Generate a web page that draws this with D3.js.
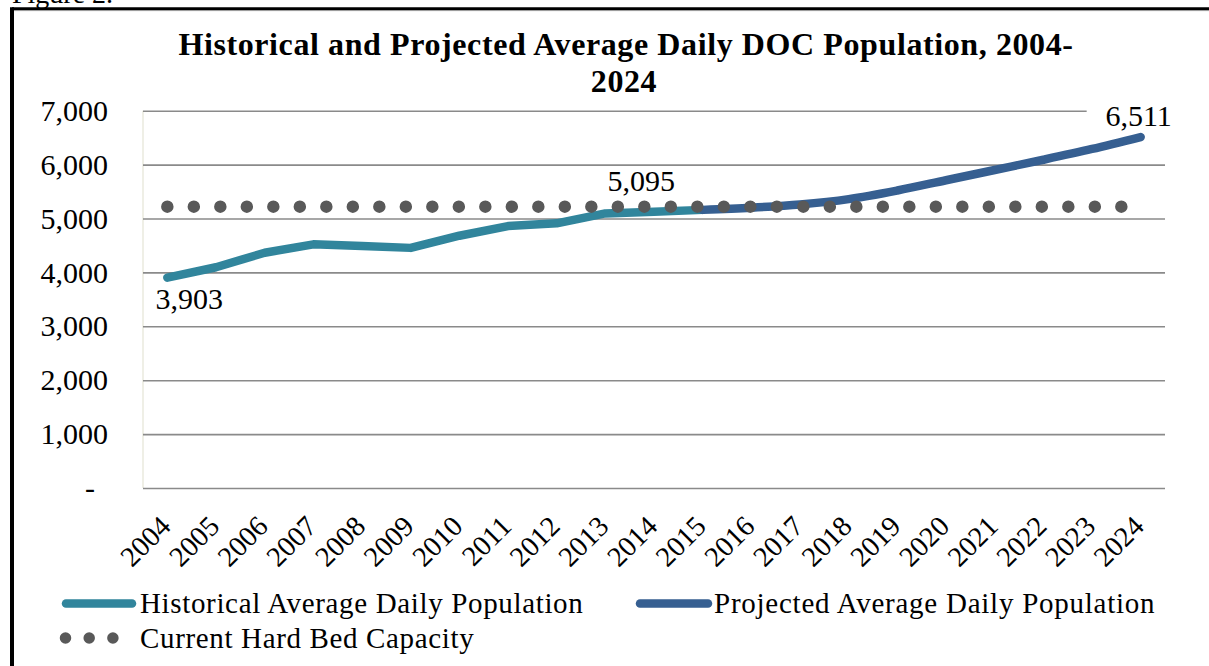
<!DOCTYPE html>
<html>
<head>
<meta charset="utf-8">
<script src="https://cdn.jsdelivr.net/npm/d3@7"></script>
<style>
  html, body { margin: 0; padding: 0; background: #fff; }
  svg { display: block; }
  text { font-family: "Liberation Serif", "Times New Roman", serif; fill: #000; }
</style>
</head>
<body>
<svg id="chart" width="1209" height="666"></svg>
<script>
// ---- data ----
const years = ["2004","2005","2006","2007","2008","2009","2010","2011","2012","2013","2014",
               "2015","2016","2017","2018","2019","2020","2021","2022","2023","2024"];
const historicalYears = ["2004","2005","2006","2007","2008","2009","2010","2011","2012","2013","2014","2015"];
const historical = [3903, 4095, 4365, 4520, 4490, 4455, 4680, 4860, 4910, 5095, 5125, 5160];
const projectedYears = ["2015","2016","2017","2018","2019","2020","2021","2022","2023","2024"];
const projected = [5160, 5200, 5260, 5360, 5520, 5710, 5900, 6090, 6290, 6511];
const capacity = [5219, 5219, 5219, 5219, 5219, 5219, 5219, 5219, 5219, 5219, 5219,
                  5219, 5219, 5219, 5219, 5219, 5219, 5219, 5219, 5219, 5219];
const yTicks = [0, 1000, 2000, 3000, 4000, 5000, 6000, 7000];
const titleLines = ["Historical and Projected Average Daily DOC Population, 2004-", "2024"];
const seriesNames = ["Historical Average Daily Population", "Projected Average Daily Population", "Current Hard Bed Capacity"];
const labelled = [
  { year: "2004", value: 3903, text: "3,903", dx: 22, dy: 31 },
  { year: "2013", value: 5095, text: "5,095", dx: 36, dy: -22 },
  { year: "2024", value: 6511, text: "6,511", dx: -2, dy: -11, box: true }
];

const colors = { hist: "#31859C", proj: "#365F91", cap: "#595959", grid: "#8a8a8a" };

// ---- layout ----
const svg = d3.select("#chart");
const plot = { left: 143, right: 1165, top: 110.7, bottom: 488 };

const x = d3.scaleBand().domain(years).range([plot.left, plot.right]);
const cx = d => x(d) + x.bandwidth() / 2;
const y = d3.scaleLinear().domain([0, 7000]).range([plot.bottom, plot.top]);

// "Figure 2." caption (cut off at top, as in the source)
svg.append("text").attr("x", 12).attr("y", 3).attr("font-size", 28).text("Figure 2.");

// frame
svg.append("line").attr("x1", 12).attr("x2", 1215).attr("y1", 8.7).attr("y2", 8.7)
  .attr("stroke", "#000").attr("stroke-width", 3);
svg.append("line").attr("x1", 14).attr("x2", 1215).attr("y1", 10.6).attr("y2", 10.6)
  .attr("stroke", "#9a9a9a").attr("stroke-width", 1);
svg.append("line").attr("x1", 12).attr("x2", 12).attr("y1", 7.2).attr("y2", 670)
  .attr("stroke", "#000").attr("stroke-width", 4);

// title
svg.append("text").attr("x", 626).attr("y", 55).attr("text-anchor", "middle")
  .attr("font-size", 32).attr("font-weight", "bold").attr("letter-spacing", 0.6).text(titleLines[0]);
svg.append("text").attr("x", 624).attr("y", 92).attr("text-anchor", "middle")
  .attr("font-size", 32).attr("font-weight", "bold").attr("letter-spacing", 0.6).text(titleLines[1]);

// left faint plot edge
svg.append("line").attr("x1", plot.left).attr("x2", plot.left)
  .attr("y1", plot.top).attr("y2", plot.bottom)
  .attr("stroke", "#e4e4d6").attr("stroke-width", 1.2);

// gridlines
const grid = svg.append("g").attr("transform", `translate(${plot.left},0)`)
  .call(d3.axisLeft(y).tickValues(yTicks).tickSize(-(plot.right - plot.left)).tickFormat(""));
grid.select(".domain").remove();
grid.selectAll(".tick line").attr("stroke", colors.grid).attr("stroke-width", 1.6);

// y axis labels
const yAxis = svg.append("g").attr("transform", `translate(108,0)`)
  .call(d3.axisLeft(y).tickValues(yTicks).tickSize(0).tickPadding(0)
    .tickFormat(d => d === 0 ? "-" : d3.format(",")(d)));
yAxis.select(".domain").remove();
yAxis.selectAll(".tick text")
  .attr("font-family", "Liberation Serif, serif").attr("font-size", 30).attr("fill", "#000")
  .attr("dx", d => d === 0 ? -13 : 0);

// x axis labels
const xAxis = svg.append("g").attr("transform", `translate(0,${plot.bottom})`)
  .call(d3.axisBottom(x).tickSize(0).tickPadding(0));
xAxis.select(".domain").remove();
xAxis.selectAll(".tick text")
  .attr("font-family", "Liberation Serif, serif").attr("font-size", 28.5).attr("fill", "#000")
  .attr("text-anchor", "end").attr("dy", 0)
  .attr("transform", "translate(5,40) rotate(-45)");

// lines
const lineH = d3.line().x((d, i) => cx(historicalYears[i])).y(d => y(d));
svg.append("path").datum(historical).attr("d", lineH)
  .attr("fill", "none").attr("stroke", colors.hist).attr("stroke-width", 8.5)
  .attr("stroke-linecap", "round").attr("stroke-linejoin", "round");

const lineP = d3.line().x((d, i) => cx(projectedYears[i])).y(d => y(d)).curve(d3.curveCatmullRom.alpha(0.5));
svg.append("path").datum(projected).attr("d", lineP)
  .attr("fill", "none").attr("stroke", colors.proj).attr("stroke-width", 8.5)
  .attr("stroke-linecap", "round").attr("stroke-linejoin", "round");

const lineC = d3.line().x((d, i) => cx(years[i])).y(d => y(d));
svg.append("path").datum(capacity).attr("d", lineC)
  .attr("fill", "none").attr("stroke", colors.cap).attr("stroke-width", 12.5)
  .attr("stroke-linecap", "round").attr("stroke-dasharray", "0 26.5");

// data labels
labelled.forEach(l => {
  const px = cx(l.year) + l.dx, py = y(l.value) + l.dy;
  if (l.box) {
    svg.append("rect").attr("x", px - 52).attr("y", py - 23).attr("width", 104).attr("height", 29)
      .attr("fill", "#fff");
  }
  svg.append("text").attr("x", px).attr("y", py).attr("text-anchor", "middle")
    .attr("font-size", 30).text(l.text);
});

// legend
const leg = svg.append("g");
leg.append("line").attr("x1", 66).attr("x2", 132).attr("y1", 603.5).attr("y2", 603.5)
  .attr("stroke", colors.hist).attr("stroke-width", 8.5).attr("stroke-linecap", "round");
leg.append("text").attr("x", 140).attr("y", 613).attr("font-size", 29).attr("letter-spacing", 0.65)
  .text(seriesNames[0]);
leg.append("line").attr("x1", 640).attr("x2", 708).attr("y1", 603.5).attr("y2", 603.5)
  .attr("stroke", colors.proj).attr("stroke-width", 8.5).attr("stroke-linecap", "round");
leg.append("text").attr("x", 714).attr("y", 613).attr("font-size", 29).attr("letter-spacing", 0.75)
  .text(seriesNames[1]);
leg.append("line").attr("x1", 65.5).attr("x2", 113).attr("y1", 638).attr("y2", 638)
  .attr("stroke", colors.cap).attr("stroke-width", 11.5).attr("stroke-linecap", "round")
  .attr("stroke-dasharray", "0 23.7");
leg.append("text").attr("x", 140).attr("y", 648).attr("font-size", 29).attr("letter-spacing", 0.65)
  .text(seriesNames[2]);
</script>
</body>
</html>
